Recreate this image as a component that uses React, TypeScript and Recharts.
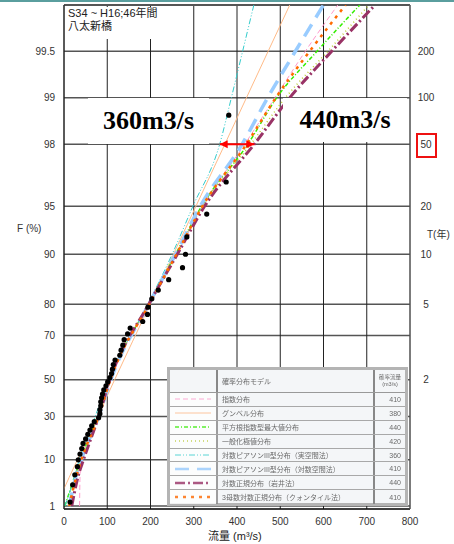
import {
  CartesianGrid,
  ComposedChart,
  Line,
  ReferenceDot,
  ReferenceLine,
  Scatter,
  XAxis,
  YAxis,
} from "recharts";

// annual max flow, plotting position F (%) and observed flow (m3/s)
const obsF = [
  1.3, 3.5, 5.6, 7.8, 10.0, 12.1, 14.3, 16.5, 18.6, 20.8, 22.9, 25.1, 27.3, 29.4, 31.6, 33.8,
  35.9, 38.1, 40.3, 42.4, 44.6, 46.8, 48.9, 51.1, 53.2, 55.4, 57.6, 59.7, 61.9, 64.1, 66.2,
  68.4, 70.6, 72.7, 74.9, 77.1, 79.2, 81.4, 83.5, 85.7, 87.9, 90.0, 92.2, 94.4, 96.5, 98.7,
];
const obsQ = [
  14, 20, 25, 31, 33, 37, 41, 44, 50, 55, 60, 64, 70, 80, 83, 83, 85, 85, 87, 89, 92, 97, 101,
  106, 110, 112, 114, 118, 129, 132, 136, 139, 147, 153, 182, 193, 194, 203, 218, 242, 274,
  281, 284, 330, 375, 381,
];

// fitted distributions, flow at each non-exceedance level
const fitF = [1, 5, 10, 30, 50, 80, 90, 95, 98, 99, 99.5, 99.75];
const cyanQ = [2, 24, 35, 72, 104, 194, 250, 298, 360, 387, 413, 439];
const peachQ = [-18, 12, 31, 78, 117, 199, 253, 305, 372, 422, 472, 522];
const blueQ = [12, 27, 40, 80, 108, 196, 258, 315, 412, 471, 535, 600];
const pinkQ = [36, 37, 40, 80, 108, 198, 261, 320, 418, 488, 558, 633];
const orangeQ = [12, 28, 40, 80, 107, 197, 260, 320, 422, 490, 568, 651];
const greenQ = [2, 24, 38, 77, 105, 196, 258, 318, 425, 492, 585, 684];
const oliveQ = [10, 27, 40, 78, 106, 195, 258, 320, 432, 512, 610, 705];
const purpleQ = [18, 32, 45, 80, 106, 196, 262, 325, 440, 522, 619, 719];

const fTicks = [1, 5, 10, 20, 30, 50, 70, 80, 90, 95, 98, 99, 99.5];
const tTicks = [2, 5, 10, 20, 50, 100, 200];
const qTicks = [0, 100, 200, 300, 400, 500, 600, 700, 800];

const arrowFrom = 360;
const arrowTo = 440;
const arrowF = 98;

const legendNames = [
  "指数分布",
  "グンベル分布",
  "平方根指数型最大値分布",
  "一般化極値分布",
  "対数ピアソンIII型分布（実空間法）",
  "対数ピアソンIII型分布（対数空間法）",
  "対数正規分布（岩井法）",
  "3母数対数正規分布（クォンタイル法）",
];
const legendValues = [410, 380, 440, 420, 360, 410, 440, 410];

// gumbel reduced variate
const gum = (f: number) => -Math.log(-Math.log(f / 100));
const yMin = -1.572;
const yMax = 5.99;

const font = '"Liberation Sans", Arial, "Noto Sans CJK JP", sans-serif';

const series = [
  { key: "pink", q: pinkQ, stroke: "#ff99cc", width: 1, dash: "5 3" },
  { key: "peach", q: peachQ, stroke: "#ffbb88", width: 1, dash: undefined },
  { key: "green", q: greenQ, stroke: "#33ee00", width: 1.5, dash: "4 2 1 2" },
  { key: "cyan", q: cyanQ, stroke: "#33cccc", width: 1, dash: "6 2 1 2 1 2" },
  { key: "olive", q: oliveQ, stroke: "#bbcc33", width: 1.5, dash: "1 3" },
  { key: "blue", q: blueQ, stroke: "#99ccff", width: 3.5, dash: "14 8" },
  { key: "purple", q: purpleQ, stroke: "#993366", width: 3, dash: "10 3 2 3" },
  { key: "orange", q: orangeQ, stroke: "#ff6a00", width: 2.5, dash: "3 5" },
];

const LeftTick = ({ y, payload }: any) => {
  const f = fTicks.find((t) => Math.abs(gum(t) - payload.value) < 1e-6);
  return (
    <text x={55} y={y} dy={3.5} textAnchor="end" fontSize={10} fill="#333" fontFamily={font}>
      {f}
    </text>
  );
};

const RightTick = ({ y, payload }: any) => {
  const t = tTicks.find((v) => Math.abs(gum(100 - 100 / v) - payload.value) < 1e-6);
  return (
    <text x={426} y={y} dy={3.5} textAnchor="middle" fontSize={10} fill="#333" fontFamily={font}>
      {t}
    </text>
  );
};

const Swatch = ({ s }: { s: (typeof series)[number] }) => (
  <svg width={40} height={8}>
    <line x1={2} y1={4} x2={38} y2={4} stroke={s.stroke} strokeWidth={Math.min(s.width, 2.5)} strokeDasharray={s.dash} />
  </svg>
);

// legend row order -> series
const legendSeries = ["pink", "peach", "green", "olive", "cyan", "blue", "purple", "orange"];

export default function App() {
  const dots = obsF.map((f, i) => ({ q: obsQ[i], y: gum(f) }));
  const g98 = gum(arrowF);

  return (
    <div style={{ position: "absolute", left: 0, top: 0, width: 454, height: 544, background: "#fff", overflow: "hidden" }}>
      <div style={{ position: "absolute", left: 0, top: 0, width: 454, height: 2, background: "#5a9e9e" }} />
      <ComposedChart width={454} height={544} margin={{ top: 5, right: 0, left: 0, bottom: 0 }}>
        <CartesianGrid yAxisId="left" vertical={false} stroke="#555" strokeWidth={1.5} />
        <CartesianGrid yAxisId="left" horizontal={false} stroke="#222" strokeWidth={1} />
        <XAxis
          type="number"
          dataKey="q"
          domain={[0, 800]}
          ticks={qTicks}
          allowDataOverflow
          height={35}
          stroke="#000"
          tickLine={false}
          tickSize={0}
          tickMargin={9}
          tick={{ fontSize: 10, fill: "#333", fontFamily: font }}
        />
        <YAxis
          yAxisId="left"
          type="number"
          domain={[yMin, yMax]}
          ticks={fTicks.map(gum)}
          allowDataOverflow
          width={64}
          stroke="#222"
          tickLine={false}
          tick={<LeftTick />}
        />
        <YAxis
          yAxisId="right"
          orientation="right"
          type="number"
          domain={[yMin, yMax]}
          ticks={tTicks.map((t) => gum(100 - 100 / t))}
          allowDataOverflow
          width={44}
          stroke="#666"
          tickLine={false}
          tick={<RightTick />}
        />
        <ReferenceLine yAxisId="left" y={yMax} stroke="#555" strokeWidth={2} />
        {series.map((s) => (
          <Line
            key={s.key}
            yAxisId="left"
            data={fitF.map((f, i) => ({ q: s.q[i], y: gum(f) }))}
            dataKey="y"
            type="monotone"
            stroke={s.stroke}
            strokeWidth={s.width}
            strokeDasharray={s.dash}
            dot={false}
            isAnimationActive={false}
          />
        ))}
        <Scatter
          yAxisId="left"
          data={dots}
          dataKey="y"
          isAnimationActive={false}
          shape={(p: any) => <circle cx={p.cx} cy={p.cy} r={2.6} fill="#000" />}
        />
        <ReferenceLine
          yAxisId="left"
          segment={[
            { x: arrowFrom, y: g98 },
            { x: arrowTo, y: g98 },
          ]}
          stroke="#ff0000"
          strokeWidth={2}
        />
        <ReferenceDot
          yAxisId="left"
          x={arrowFrom}
          y={g98}
          shape={(p: any) => (
            <path d={`M${p.cx},${p.cy} L${p.cx + 8},${p.cy - 4} L${p.cx + 8},${p.cy + 4} Z`} fill="#ff0000" />
          )}
        />
        <ReferenceDot
          yAxisId="left"
          x={arrowTo}
          y={g98}
          shape={(p: any) => (
            <path d={`M${p.cx},${p.cy} L${p.cx - 8},${p.cy - 4} L${p.cx - 8},${p.cy + 4} Z`} fill="#ff0000" />
          )}
        />
      </ComposedChart>

      {/* station note */}
      <div style={{ position: "absolute", left: 65, top: 7, width: 88, height: 32, background: "#fff", fontFamily: font, fontSize: 11, lineHeight: "13px", color: "#222", paddingLeft: 3, whiteSpace: "nowrap" }}>
        S34 ~ H16;46年間
        <br />
        八太新橋
      </div>

      {/* flow annotations */}
      <div style={{ position: "absolute", left: 88, top: 98, width: 121, height: 46, background: "#fff", display: "flex", alignItems: "center", justifyContent: "center", fontFamily: '"Liberation Serif", "Times New Roman", serif', fontWeight: "bold", fontSize: 26 }}>
        360m3/s
      </div>
      <div style={{ position: "absolute", left: 283, top: 98, width: 124, height: 44, background: "#fff", display: "flex", alignItems: "center", justifyContent: "center", fontFamily: '"Liberation Serif", "Times New Roman", serif', fontWeight: "bold", fontSize: 26 }}>
        440m3/s
      </div>
      <div style={{ position: "absolute", left: 416, top: 133, width: 17, height: 21, border: "2px solid #ee1111" }} />

      {/* axis titles */}
      <div style={{ position: "absolute", left: 17, top: 223, fontFamily: font, fontSize: 10, color: "#333", whiteSpace: "nowrap" }}>F (%)</div>
      <div style={{ position: "absolute", left: 427, top: 226, fontFamily: font, fontSize: 10, color: "#333", whiteSpace: "nowrap" }}>T(年)</div>
      <div style={{ position: "absolute", left: 208, top: 530, fontFamily: font, fontSize: 11, lineHeight: "12px", color: "#222", whiteSpace: "nowrap" }}>
        流量 (m³/s)
      </div>

      {/* legend table */}
      <div style={{ position: "absolute", left: 167, top: 367, width: 241, height: 139, boxSizing: "border-box", border: "3px solid #b4b4b4", background: "#f4f6f8", fontFamily: font, color: "#6a6a6a" }}>
        <div style={{ display: "flex", height: 22, borderBottom: "1.5px solid #999" }}>
          <div style={{ width: 46, borderRight: "2px solid #888" }} />
          <div style={{ width: 151, borderRight: "2px solid #888", fontSize: 7, display: "flex", alignItems: "center", paddingLeft: 4, filter: "blur(0.4px)" }}>確率分布モデル</div>
          <div style={{ flex: 1, fontSize: 5.5, textAlign: "center", lineHeight: "7px", paddingTop: 4, filter: "blur(0.4px)" }}>
            確率流量
            <br />
            (m3/s)
          </div>
        </div>
        {legendNames.map((name, i) => {
          const s = series.find((x) => x.key === legendSeries[i])!;
          return (
            <div key={name} style={{ display: "flex", height: 13.9, borderBottom: i < 7 ? "1.5px solid #a8a8a8" : "none", boxSizing: "border-box" }}>
              <div style={{ width: 46, borderRight: "2px solid #888", display: "flex", alignItems: "center", justifyContent: "center", background: "#fff", opacity: 0.8 }}>
                <Swatch s={s} />
              </div>
              <div style={{ width: 151, borderRight: "2px solid #888", fontSize: 7, display: "flex", alignItems: "center", paddingLeft: 4, whiteSpace: "nowrap", overflow: "hidden", filter: "blur(0.4px)" }}>
                {name}
              </div>
              <div style={{ flex: 1, fontSize: 7, display: "flex", alignItems: "center", justifyContent: "flex-end", paddingRight: 4, filter: "blur(0.4px)" }}>
                {legendValues[i]}
              </div>
            </div>
          );
        })}
      </div>
    </div>
  );
}
